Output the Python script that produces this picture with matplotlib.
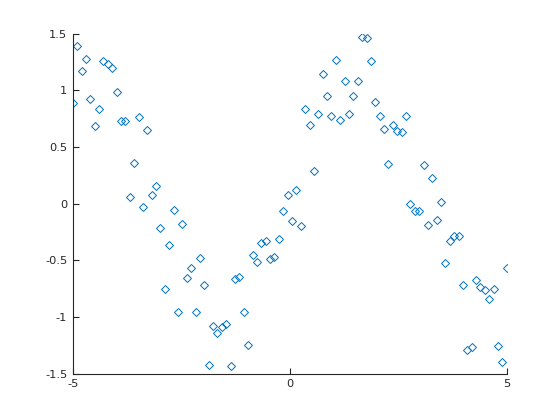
import numpy as np
import matplotlib
matplotlib.use("Agg")
import matplotlib.pyplot as plt

n_points = 100
x_min, x_max = -5, 5
y_values = [
    0.884, 1.395, 1.166, 1.280, 0.919, 0.681, 0.831, 1.257, 1.230, 1.195,
    0.989, 0.725, 0.725, 0.063, 0.357, 0.763, -0.025, 0.646, 0.081, 0.160,
    -0.216, -0.748, -0.360, -0.057, -0.951, -0.183, -0.657, -0.563, -0.957, -0.483,
    -0.713, -1.418, -1.078, -1.139, -1.083, -1.063, -1.427, -0.668, -0.642, -0.951,
    -1.250, -0.448, -0.516, -0.348, -0.325, -0.487, -0.466, -0.313, -0.060, 0.075,
    -0.154, 0.125, -0.201, 0.831, 0.690, 0.287, 0.787, 1.148, 0.951, 0.772,
    1.271, 0.734, 1.086, 0.787, 0.951, 1.078, 1.470, 1.462, 1.257, 0.901,
    0.772, 0.657, 0.354, 0.698, 0.642, 0.628, 0.774, -0.007, -0.060, -0.060,
    0.337, -0.192, 0.228, -0.146, 0.011, -0.527, -0.333, -0.287, -0.287, -0.713,
    -1.286, -1.265, -0.675, -0.736, -0.757, -0.842, -0.748, -1.257, -1.400, -0.563,
]
x_values = np.linspace(x_min, x_max, n_points)
x_ticks = [-5, 0, 5]
x_ticklabels = ["-5", "0", "5"]
y_ticks = [-1.5, -1, -0.5, 0, 0.5, 1, 1.5]
y_ticklabels = ["-1.5", "-1", "-0.5", "0", "0.5", "1", "1.5"]

plt.rcParams['font.family'] = ['DejaVu Sans']
fig = plt.figure(figsize=(5.6, 4.2), dpi=100)
ax = fig.add_axes([0.13, 0.11, 0.775, 0.81])
ax.plot(x_values, y_values, linestyle='none', marker='D', markersize=3.8,
        markerfacecolor='none', markeredgecolor=(0, 0.447, 0.741), markeredgewidth=0.7)
ax.set_xlim(x_min, x_max)
ax.set_ylim(-1.5, 1.5)
ax.set_xticks(x_ticks)
ax.set_xticklabels(x_ticklabels)
ax.set_yticks(y_ticks)
ax.set_yticklabels(y_ticklabels)
for s in ['top', 'right']:
    ax.spines[s].set_visible(False)
axc = (0.15, 0.15, 0.15)
for s in ['left', 'bottom']:
    ax.spines[s].set_color(axc)
    ax.spines[s].set_linewidth(0.8)
ax.tick_params(direction='in', length=4, width=0.8, colors=axc, labelsize=8.2, pad=4)
fig.savefig("out.png", dpi=100)
